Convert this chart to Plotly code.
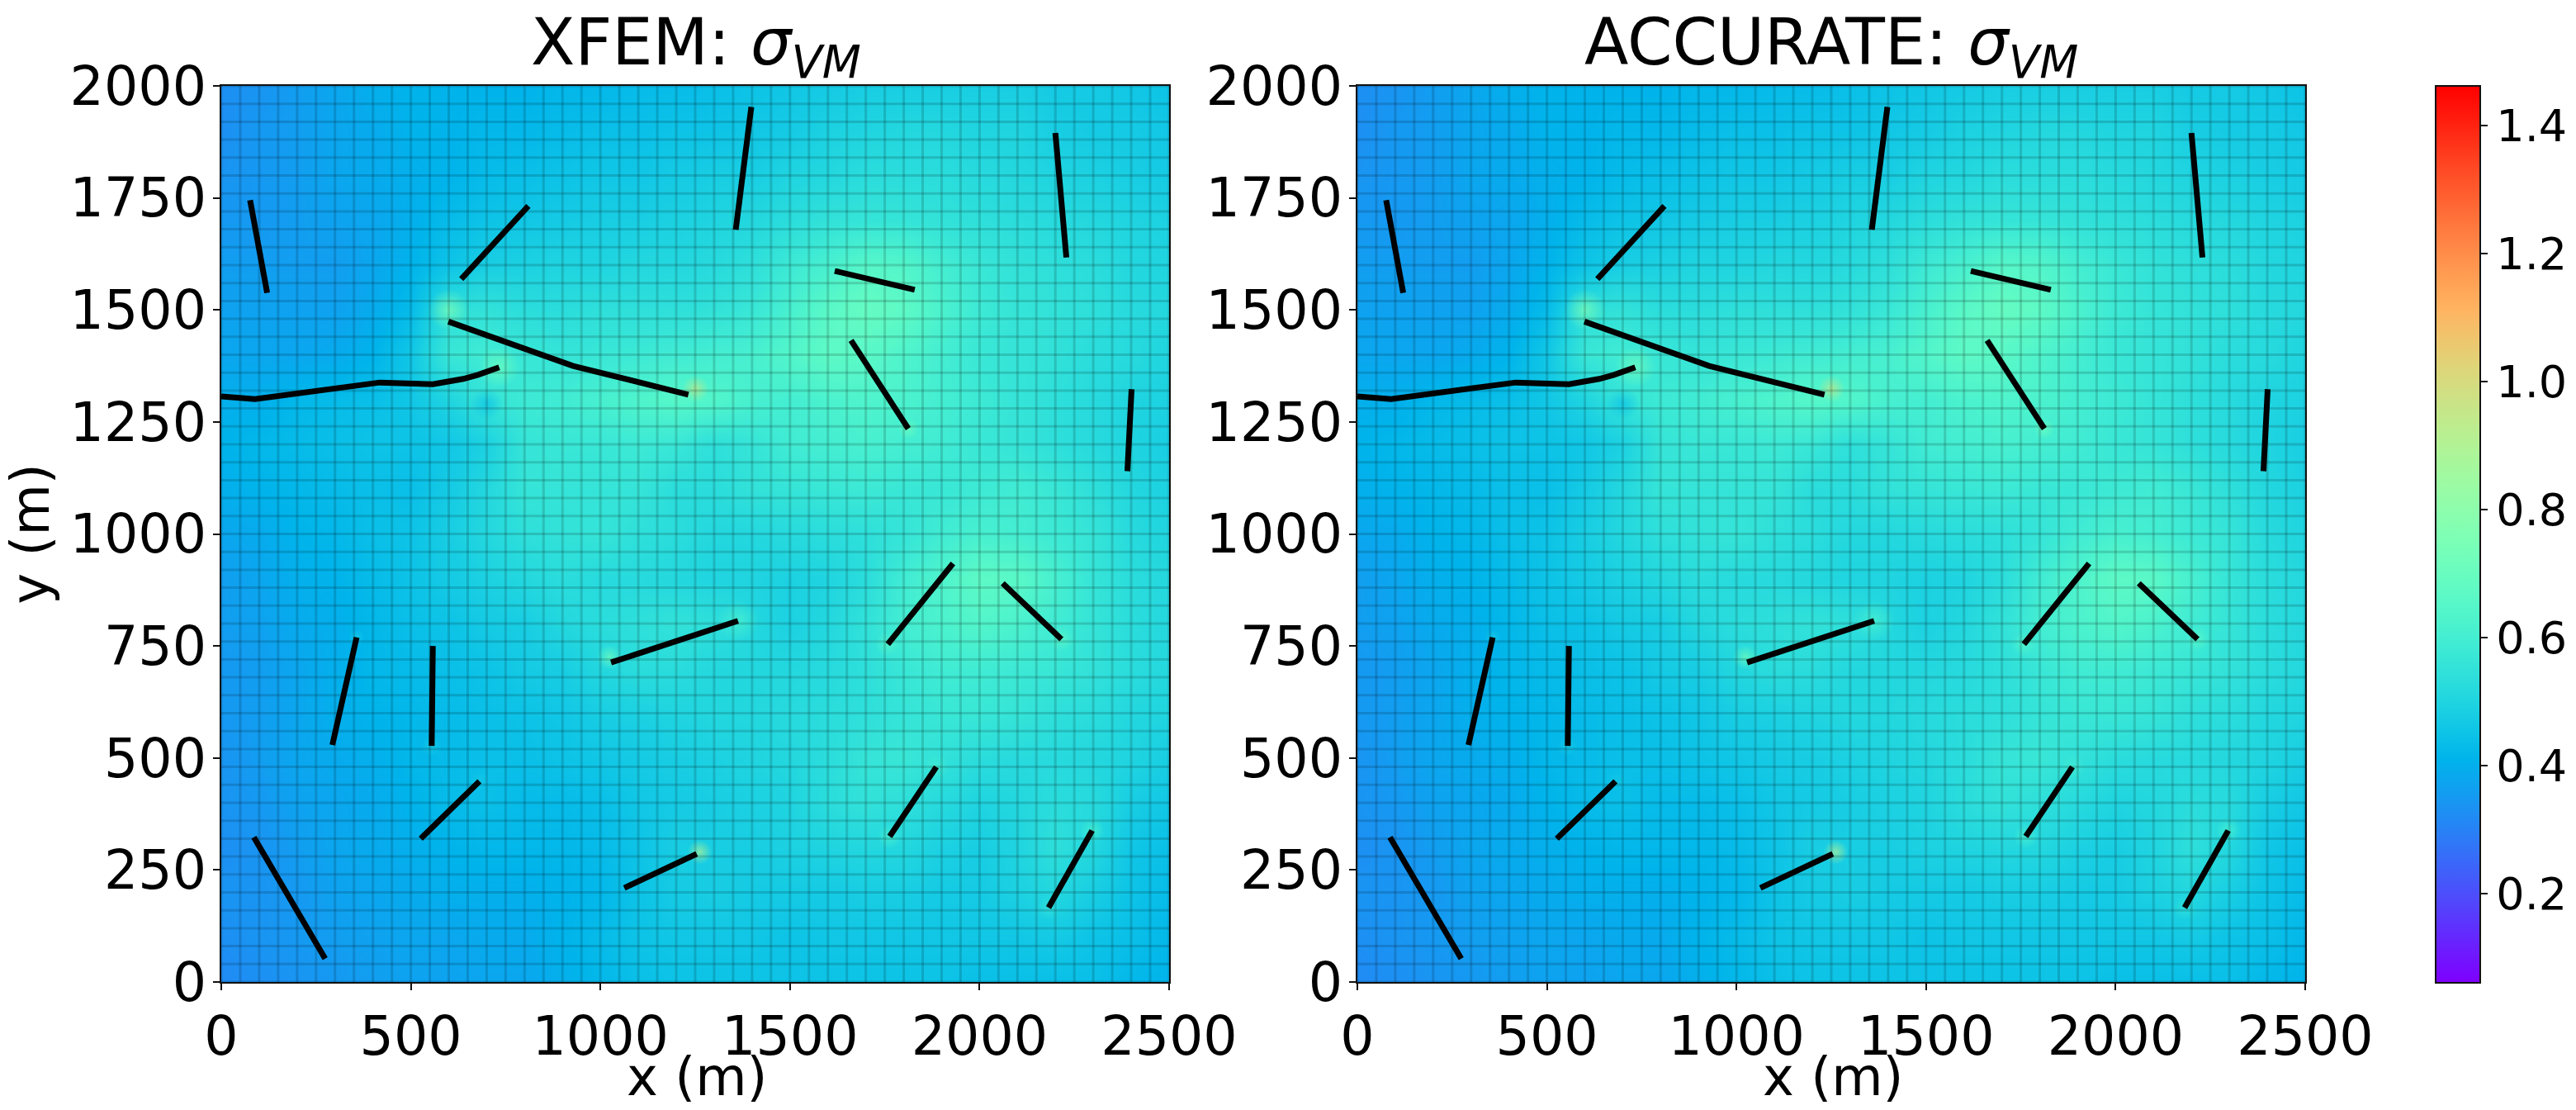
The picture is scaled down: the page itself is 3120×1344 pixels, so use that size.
import math
import plotly.graph_objects as go

W, H = 3120, 1344
grid_x = list(range(0, 2501, 100))
grid_y = [2000 - 100 * i for i in range(21)]

# stress field, rows from y=2000 down to y=0
field_rows = [
 [.33,.34,.36,.38,.40,.41,.41,.41,.41,.42,.42,.43,.43,.44,.45,.46,.47,.48,.48,.48,.48,.48,.47,.47,.46,.45],
 [.33,.35,.36,.38,.39,.41,.41,.42,.42,.43,.44,.44,.45,.45,.46,.47,.49,.50,.51,.51,.50,.50,.48,.47,.47,.46],
 [.34,.35,.36,.38,.39,.40,.41,.43,.44,.45,.46,.46,.47,.48,.48,.50,.51,.53,.53,.53,.52,.51,.50,.49,.48,.47],
 [.35,.35,.36,.37,.38,.40,.43,.45,.46,.47,.48,.48,.49,.50,.51,.53,.55,.56,.56,.55,.54,.53,.52,.51,.50,.49],
 [.36,.36,.36,.36,.38,.41,.45,.48,.49,.50,.50,.51,.51,.52,.54,.58,.61,.65,.64,.60,.57,.55,.54,.53,.51,.50],
 [.37,.37,.37,.37,.39,.43,.54,.55,.53,.53,.54,.54,.54,.55,.57,.61,.66,.69,.67,.62,.58,.56,.55,.54,.52,.51],
 [.38,.38,.38,.39,.41,.46,.57,.59,.57,.56,.57,.58,.59,.60,.61,.64,.67,.66,.63,.60,.57,.56,.55,.53,.52,.50],
 [.40,.40,.42,.43,.44,.46,.50,.56,.58,.59,.61,.63,.65,.64,.61,.60,.62,.63,.62,.60,.58,.56,.54,.52,.50,.49],
 [.41,.42,.43,.44,.45,.45,.46,.49,.56,.57,.57,.58,.57,.54,.56,.59,.60,.61,.60,.59,.57,.56,.54,.52,.50,.48],
 [.40,.41,.42,.43,.44,.44,.47,.51,.56,.56,.56,.56,.53,.53,.55,.56,.57,.58,.57,.57,.58,.59,.57,.54,.51,.49],
 [.38,.39,.41,.42,.44,.45,.48,.51,.54,.55,.56,.54,.53,.51,.51,.52,.53,.54,.56,.59,.61,.60,.58,.56,.52,.50],
 [.36,.38,.40,.41,.43,.45,.47,.49,.51,.53,.52,.52,.51,.50,.50,.49,.50,.53,.59,.63,.67,.66,.61,.56,.53,.51],
 [.36,.37,.39,.40,.42,.44,.45,.47,.48,.51,.53,.54,.55,.54,.51,.49,.51,.55,.60,.62,.64,.62,.59,.56,.53,.51],
 [.35,.36,.38,.40,.42,.43,.44,.45,.47,.48,.51,.53,.53,.51,.51,.51,.52,.54,.57,.59,.59,.58,.57,.55,.53,.51],
 [.35,.36,.38,.40,.41,.42,.43,.44,.45,.46,.48,.49,.50,.51,.51,.52,.53,.54,.56,.57,.57,.56,.54,.53,.51,.50],
 [.34,.36,.38,.39,.40,.42,.43,.44,.44,.45,.46,.47,.48,.49,.50,.51,.53,.56,.57,.55,.53,.52,.52,.51,.50,.48],
 [.34,.35,.37,.38,.39,.41,.43,.44,.43,.43,.44,.46,.47,.48,.49,.50,.53,.55,.54,.52,.50,.51,.53,.52,.48,.46],
 [.33,.34,.36,.38,.39,.40,.41,.42,.42,.42,.43,.45,.48,.48,.48,.49,.50,.51,.51,.49,.48,.50,.54,.51,.46,.44],
 [.34,.34,.35,.37,.38,.39,.40,.40,.40,.41,.42,.45,.47,.48,.47,.47,.47,.48,.48,.47,.47,.49,.51,.48,.45,.43],
 [.33,.34,.35,.36,.37,.38,.38,.39,.39,.41,.43,.45,.46,.46,.46,.45,.46,.46,.46,.46,.46,.46,.47,.45,.44,.42],
 [.32,.33,.34,.35,.36,.37,.37,.38,.38,.40,.42,.44,.45,.45,.45,.45,.45,.45,.45,.45,.44,.44,.44,.44,.42,.41],
]

# local peaks at crack tips: x, y, value, spot diameter
spot_x = [1251, 1262, 600, 733, 1812, 1024, 1363, 2297, 2182, 1763, 1886, 1758, 2216, 555, 357, 681, 700]
spot_y = [1324, 290, 1500, 1372, 1235, 725, 806, 338, 166, 325, 480, 754, 765, 527, 769, 448, 1290]
spot_v = [.95, .90, .76, .72, .72, .72, .62, .62, .55, .62, .60, .65, .66, .48, .48, .47, .44]
spot_d = [32, 30, 50, 50, 25, 30, 50, 30, 30, 30, 30, 30, 30, 25, 20, 25, 40]

cracks = [
 ([76, 121], [1745, 1538]),
 ([633, 810], [1569, 1732]),
 ([1357, 1398], [1679, 1953]),
 ([2200, 2229], [1895, 1617]),
 ([1618, 1829], [1587, 1545]),
 ([1661, 1812], [1432, 1235]),
 ([2401, 2390], [1323, 1140]),
 ([599, 928, 1232], [1474, 1375, 1311]),
 ([0, 89, 418, 558, 638, 677, 733], [1307, 1301, 1338, 1334, 1346, 1355, 1372]),
 ([1930, 1758], [934, 754]),
 ([2061, 2216], [890, 765]),
 ([1363, 1028], [806, 713]),
 ([357, 293], [769, 529]),
 ([558, 555], [750, 527]),
 ([681, 526], [448, 320]),
 ([86, 274], [323, 52]),
 ([1254, 1063], [286, 210]),
 ([1886, 1763], [480, 325]),
 ([2297, 2182], [338, 166]),
]

mesh_x = list(range(0, 2501, 50))
mesh_y = list(range(0, 2001, 40))
x_ticks = [0, 500, 1000, 1500, 2000, 2500]
y_ticks = [0, 250, 500, 750, 1000, 1250, 1500, 1750, 2000]
cbar_ticks = [0.2, 0.4, 0.6, 0.8, 1.0, 1.2, 1.4]
CMIN, CMAX = 0.0606, 1.462
titles = ["XFEM: <i>σ<sub>VM</sub></i>", "ACCURATE: <i>σ<sub>VM</sub></i>"]


def rainbow(t):
    r = min(1, abs(2 * t - 0.5))
    g = math.sin(math.pi * t)
    b = math.cos(math.pi * t / 2)
    return int(r * 255), int(g * 255), int(b * 255)


scale = [[i / 32, "rgb(%d,%d,%d)" % rainbow(i / 32)] for i in range(33)]
FONT = "DejaVu Sans"

fig = go.Figure()
mx, my = [], []
for x in mesh_x:
    mx += [x, x, None]
    my += [0, 2000, None]
for y in mesh_y:
    mx += [0, 2500, None]
    my += [y, y, None]
crack_x, crack_y = [], []
for cx, cy in cracks:
    crack_x += cx + [None]
    crack_y += cy + [None]
spot_rgb = [rainbow((v - CMIN) / (CMAX - CMIN)) for v in spot_v]

for i, (xa, ya) in enumerate([("x", "y"), ("x2", "y2")]):
    fig.add_trace(go.Heatmap(x=grid_x, y=grid_y, z=field_rows, zsmooth="best", coloraxis="coloraxis",
                             xaxis=xa, yaxis=ya, hoverinfo="skip"))
    fig.add_trace(go.Scatter(x=spot_x, y=spot_y, mode="markers", xaxis=xa, yaxis=ya, hoverinfo="skip",
                             marker=dict(size=spot_d, line_width=0,
                                         color=["rgba(%d,%d,%d,0)" % c for c in spot_rgb],
                                         gradient=dict(type="radial", color=["rgb(%d,%d,%d)" % c for c in spot_rgb]))))
    fig.add_trace(go.Scatter(x=mx, y=my, mode="lines", xaxis=xa, yaxis=ya, hoverinfo="skip",
                             line=dict(color="rgba(0,0,0,0.15)", width=3)))
    fig.add_trace(go.Scatter(x=crack_x, y=crack_y, mode="lines", xaxis=xa, yaxis=ya, hoverinfo="skip",
                             line=dict(color="black", width=7)))

axis_common = dict(showline=True, mirror=True, linecolor="#111111", linewidth=2, ticks="outside",
                   ticklen=8, tickwidth=2, tickcolor="#111111", showgrid=False, zeroline=False,
                   tickfont=dict(size=65, color="black", family=FONT), automargin=False)
dom_y = [(H - 1189) / H, (H - 104) / H]
ann_font = dict(size=78, color="black", family=FONT)
lab_font = dict(size=64, color="black", family=FONT)
fig.update_layout(
    width=W, height=H, autosize=False, showlegend=False, paper_bgcolor="white", plot_bgcolor="white",
    margin=dict(l=0, r=0, t=0, b=0, pad=0), font=dict(family=FONT, color="black"),
    coloraxis=dict(colorscale=scale, cmin=CMIN, cmax=CMAX,
                   colorbar=dict(thicknessmode="pixels", thickness=54, lenmode="pixels", len=1086,
                                 x=2950 / W, xanchor="left", y=(H - 1190) / H, yanchor="bottom",
                                 xpad=0, ypad=0, outlinewidth=2, outlinecolor="#111111",
                                 tickmode="array", tickvals=cbar_ticks, ticktext=["%.1f" % t for t in cbar_ticks],
                                 ticks="outside", ticklen=8, tickwidth=2, tickcolor="#111111",
                                 tickfont=dict(size=54, color="black", family=FONT))),
    xaxis=dict(domain=[268 / W, 1416 / W], range=[0, 2500], tickvals=x_ticks, anchor="y", **axis_common),
    yaxis=dict(domain=dom_y, range=[0, 2000], tickvals=y_ticks, anchor="x", ticklabelstandoff=-5,
               title=dict(text="y (m)", font=dict(size=64), standoff=14), **axis_common),
    xaxis2=dict(domain=[1644 / W, 2792 / W], range=[0, 2500], tickvals=x_ticks, anchor="y2", **axis_common),
    yaxis2=dict(domain=dom_y, range=[0, 2000], tickvals=y_ticks, anchor="x2", ticklabelstandoff=-5, **axis_common),
    annotations=[
        dict(text=titles[0], xref="paper", yref="paper", x=843 / W, y=(H - 109) / H, xanchor="center",
             yanchor="bottom", showarrow=False, font=ann_font),
        dict(text=titles[1], xref="paper", yref="paper", x=2218 / W, y=(H - 109) / H, xanchor="center",
             yanchor="bottom", showarrow=False, font=ann_font),
        dict(text="x (m)", xref="paper", yref="paper", x=844 / W, y=(H - 1304) / H, xanchor="center",
             yanchor="middle", showarrow=False, font=lab_font),
        dict(text="x (m)", xref="paper", yref="paper", x=2220 / W, y=(H - 1304) / H, xanchor="center",
             yanchor="middle", showarrow=False, font=lab_font),
    ],
)
fig.write_html("out.html", config=dict(displayModeBar=False),
               post_script="document.body.style.margin='0';document.documentElement.style.overflow='hidden';")
